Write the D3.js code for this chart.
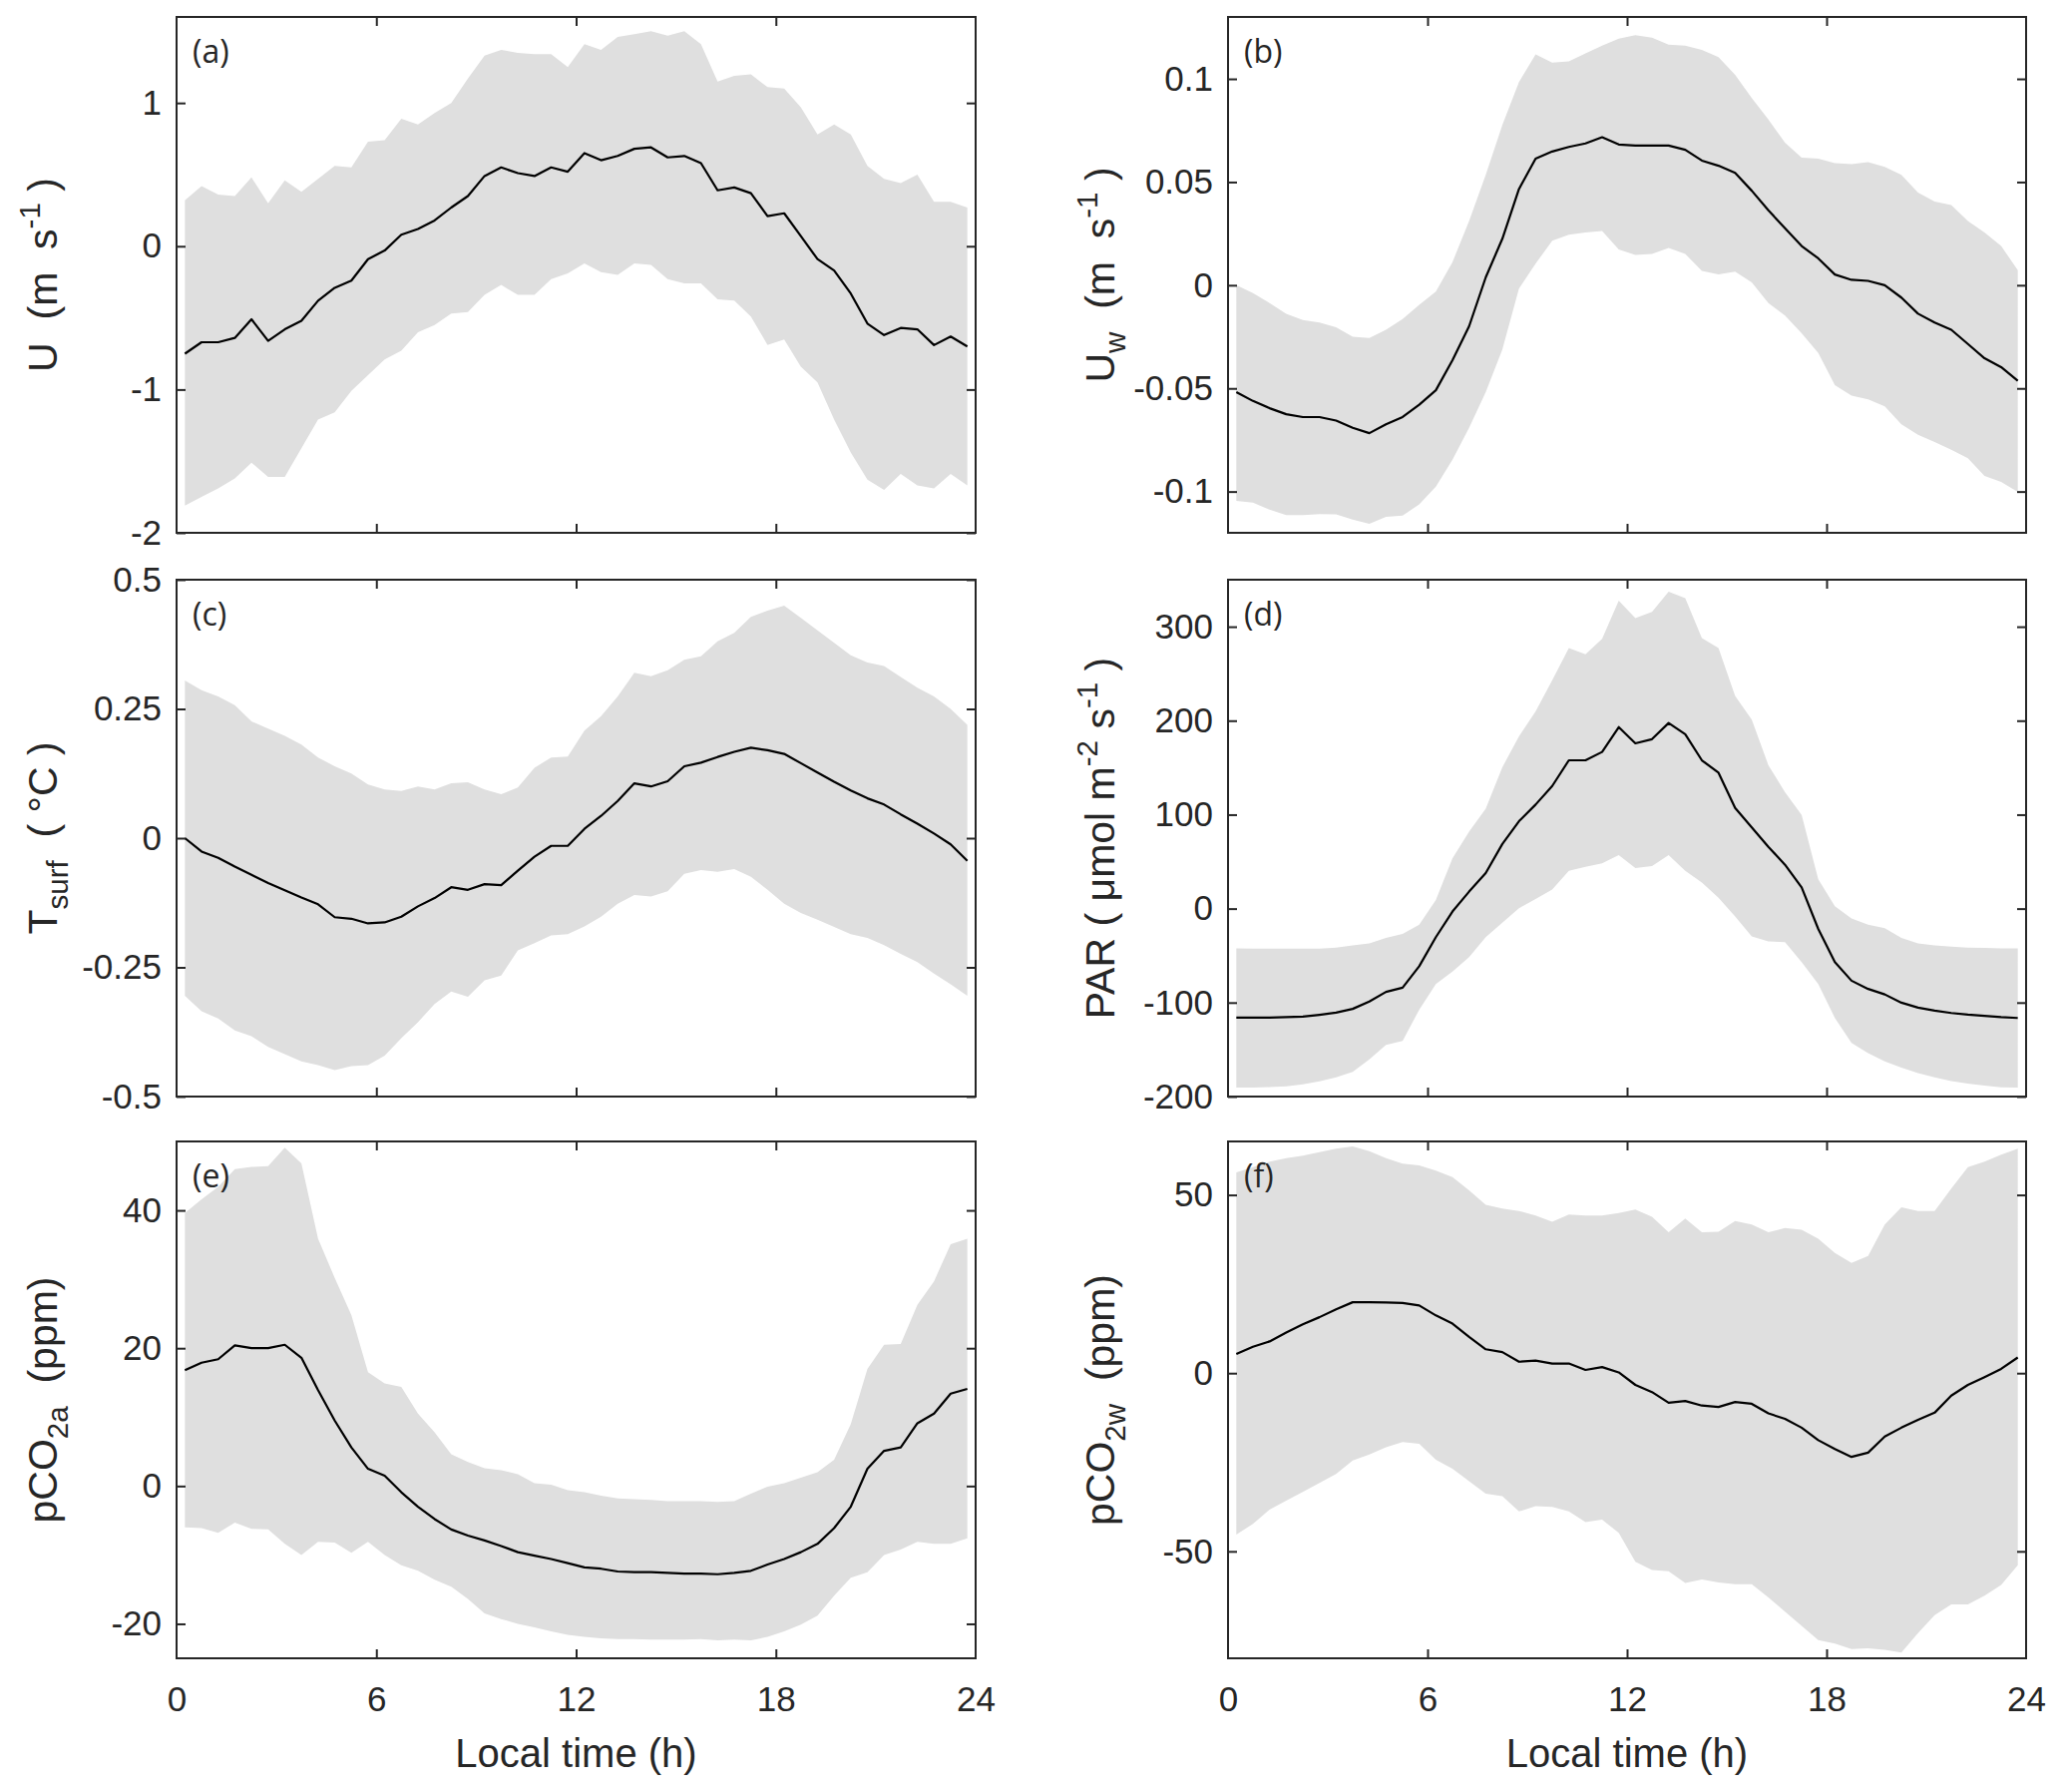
<!DOCTYPE html>
<html>
<head>
<meta charset="utf-8">
<script src="https://cdn.jsdelivr.net/npm/d3@7"></script>
<style>
  html, body { margin: 0; padding: 0; background: #fff; }
  svg { display: block; }
  text { white-space: pre; }
</style>
</head>
<body>
<svg id="chart" width="2067" height="1796"></svg>
<script>
// ---------------- DATA ----------------
const hours = [0.25,0.75,1.25,1.75,2.25,2.75,3.25,3.75,4.25,4.75,5.25,5.75,6.25,6.75,7.25,7.75,
  8.25,8.75,9.25,9.75,10.25,10.75,11.25,11.75,12.25,12.75,13.25,13.75,14.25,14.75,15.25,15.75,
  16.25,16.75,17.25,17.75,18.25,18.75,19.25,19.75,20.25,20.75,21.25,21.75,22.25,22.75,23.25,23.75];
const xTicks = [0, 6, 12, 18, 24];

// (a) U
const uMean = [-0.75,-0.67,-0.67,-0.64,-0.51,-0.66,-0.58,-0.52,-0.38,-0.29,-0.24,-0.09,-0.03,0.08,0.12,0.18,0.27,0.35,0.49,0.55,0.51,0.49,0.55,0.52,0.65,0.60,0.63,0.68,0.69,0.62,0.63,0.58,0.39,0.41,0.37,0.21,0.23,0.07,-0.09,-0.17,-0.33,-0.54,-0.62,-0.57,-0.58,-0.69,-0.63,-0.70];
const uUpper = [0.32,0.42,0.36,0.35,0.48,0.30,0.46,0.38,0.47,0.56,0.55,0.73,0.74,0.89,0.85,0.93,1.00,1.17,1.33,1.37,1.35,1.34,1.34,1.25,1.41,1.37,1.46,1.48,1.50,1.47,1.50,1.41,1.15,1.19,1.20,1.11,1.10,0.97,0.78,0.85,0.78,0.56,0.47,0.44,0.50,0.31,0.31,0.27];
const uLower = [-1.81,-1.75,-1.69,-1.62,-1.51,-1.61,-1.61,-1.41,-1.21,-1.16,-1.01,-0.90,-0.79,-0.73,-0.60,-0.55,-0.47,-0.46,-0.34,-0.27,-0.34,-0.34,-0.23,-0.19,-0.12,-0.18,-0.20,-0.12,-0.13,-0.23,-0.26,-0.26,-0.37,-0.38,-0.49,-0.69,-0.65,-0.84,-0.95,-1.21,-1.44,-1.63,-1.70,-1.59,-1.67,-1.69,-1.59,-1.67];
const uTicks = [-2, -1, 0, 1];

// (b) Uw
const uwMean = [-0.0518,-0.0561,-0.0596,-0.0625,-0.0639,-0.0639,-0.0656,-0.0691,-0.0717,-0.0674,-0.0639,-0.0579,-0.0509,-0.0363,-0.0199,0.0038,0.0225,0.0466,0.0613,0.0648,0.0670,0.0687,0.0717,0.0682,0.0677,0.0677,0.0677,0.0656,0.0604,0.0579,0.0544,0.0458,0.0363,0.0276,0.0190,0.0130,0.0052,0.0026,0.0021,0.0000,-0.0060,-0.0138,-0.0181,-0.0216,-0.0285,-0.0354,-0.0397,-0.0463];
const uwUpper = [0.0000,-0.0038,-0.0086,-0.0138,-0.0169,-0.0181,-0.0204,-0.0250,-0.0256,-0.0216,-0.0164,-0.0095,-0.0031,0.0112,0.0311,0.0535,0.0777,0.0984,0.1119,0.1079,0.1085,0.1123,0.1161,0.1195,0.1212,0.1200,0.1166,0.1161,0.1140,0.1105,0.1019,0.0907,0.0803,0.0691,0.0618,0.0613,0.0591,0.0587,0.0596,0.0573,0.0535,0.0449,0.0406,0.0389,0.0311,0.0256,0.0190,0.0073];
const uwLower = [-0.1045,-0.1054,-0.1088,-0.1114,-0.1114,-0.1109,-0.1110,-0.1136,-0.1157,-0.1123,-0.1117,-0.1062,-0.0976,-0.0846,-0.0691,-0.0518,-0.0311,-0.0017,0.0104,0.0216,0.0245,0.0256,0.0263,0.0173,0.0147,0.0152,0.0181,0.0152,0.0069,0.0052,0.0066,0.0014,-0.0086,-0.0147,-0.0233,-0.0328,-0.0484,-0.0535,-0.0553,-0.0587,-0.0674,-0.0725,-0.0760,-0.0798,-0.0838,-0.0924,-0.0953,-0.1002];
const uwTicks = [-0.1, -0.05, 0, 0.05, 0.1];

// (c) Tsurf
const tMean = [0.000,-0.026,-0.038,-0.055,-0.071,-0.087,-0.101,-0.115,-0.128,-0.153,-0.156,-0.165,-0.163,-0.152,-0.132,-0.116,-0.095,-0.100,-0.089,-0.091,-0.063,-0.036,-0.015,-0.015,0.018,0.043,0.072,0.106,0.100,0.110,0.139,0.146,0.157,0.167,0.175,0.170,0.163,0.145,0.127,0.109,0.092,0.077,0.065,0.046,0.028,0.009,-0.012,-0.044];
const tUpper = [0.305,0.286,0.274,0.257,0.226,0.212,0.198,0.181,0.156,0.139,0.125,0.104,0.094,0.091,0.100,0.094,0.106,0.108,0.094,0.085,0.098,0.136,0.156,0.158,0.208,0.236,0.274,0.320,0.313,0.325,0.345,0.352,0.381,0.397,0.428,0.440,0.450,0.426,0.402,0.378,0.354,0.340,0.333,0.312,0.291,0.274,0.250,0.219];
const tLower = [-0.305,-0.335,-0.349,-0.372,-0.383,-0.404,-0.418,-0.432,-0.439,-0.449,-0.441,-0.439,-0.421,-0.387,-0.356,-0.321,-0.297,-0.307,-0.275,-0.266,-0.217,-0.203,-0.188,-0.186,-0.171,-0.152,-0.127,-0.110,-0.113,-0.103,-0.069,-0.062,-0.065,-0.060,-0.075,-0.100,-0.127,-0.145,-0.158,-0.172,-0.186,-0.193,-0.207,-0.224,-0.240,-0.262,-0.283,-0.305];
const tTicks = [-0.5, -0.25, 0, 0.25, 0.5];

// (d) PAR
const parMean = [-116,-116,-116,-115.5,-115,-113,-110.7,-106.7,-98.8,-88.6,-84.2,-61.3,-30.4,-3.1,18.1,37.9,68.8,93,110.7,130.5,157.8,157.8,166.7,193.1,175.9,180.3,197.5,185.6,157.8,144.6,107.1,86.4,65.7,46.7,22.5,-21.6,-56.9,-76.7,-85.5,-91.3,-100.1,-105.4,-108.5,-111.1,-112.9,-114.2,-115.5,-116.4];
const parUpper = [-42.3,-42.5,-42.5,-42.5,-42.5,-42.5,-41.4,-39.2,-37,-31.3,-26.9,-17.2,9.3,53.4,82,106.3,150.4,183.4,209.9,242.9,277.3,270.7,287,327.6,309.1,315.7,337.3,330.3,287.9,277.3,226.2,201.1,152.6,123.9,99.6,31.3,2.6,-10.6,-17.2,-20.7,-31.3,-37,-39.2,-40.6,-41.4,-41.9,-42.3,-42.3];
const parLower = [-190.5,-190.5,-190,-189.2,-187,-183.9,-179.5,-173.7,-160.5,-145.1,-140.7,-107.6,-80.2,-67,-51.6,-30.4,-15,0.4,10.1,20.3,40.1,44.5,48.1,56.9,43.2,45.4,56.9,40.1,27.8,11.5,-8.4,-29.5,-34.8,-35.7,-56.9,-80.2,-116.4,-142.9,-153.9,-162.7,-169.3,-175,-179.5,-183.5,-186.1,-188.4,-190.1,-190.5];
const parTicks = [-200, -100, 0, 100, 200, 300];

// (e) pCO2a
const co2aMean = [16.8,17.9,18.4,20.4,20.0,20.0,20.5,18.6,13.9,9.5,5.6,2.5,1.5,-0.9,-3.0,-4.8,-6.3,-7.2,-7.9,-8.7,-9.6,-10.1,-10.6,-11.2,-11.8,-12.0,-12.4,-12.5,-12.5,-12.6,-12.7,-12.7,-12.8,-12.6,-12.3,-11.4,-10.6,-9.6,-8.4,-6.1,-3.0,2.5,5.1,5.6,9.1,10.5,13.4,14.1];
const co2aUpper = [39.6,41.6,43.4,46.0,46.3,46.4,49.1,46.8,35.9,30.2,24.8,16.5,14.9,14.4,10.5,7.8,4.6,3.5,2.6,2.3,1.7,0.4,0.2,-0.6,-0.9,-1.4,-1.8,-1.9,-2.0,-2.2,-2.2,-2.2,-2.3,-2.2,-1.1,-0.1,0.4,1.2,2.0,3.8,9.0,17.0,20.5,20.6,26.3,29.7,35.1,35.9];
const co2aLower = [-6.0,-6.1,-6.8,-5.3,-6.2,-6.3,-8.4,-10.0,-8.1,-8.2,-9.7,-8.1,-10.0,-11.5,-12.3,-13.6,-14.6,-16.4,-18.5,-19.3,-20.0,-20.5,-21.1,-21.6,-21.9,-22.1,-22.2,-22.2,-22.3,-22.3,-22.3,-22.2,-22.4,-22.3,-22.4,-21.9,-21.1,-20.1,-18.8,-15.9,-13.3,-12.5,-10.0,-9.2,-8.1,-8.4,-8.4,-7.6];
const co2aTicks = [-20, 0, 20, 40];

// (f) pCO2w
const co2wMean = [5.4,7.4,8.9,11.4,13.7,15.7,17.9,19.9,19.9,19.8,19.7,19.0,16.2,13.9,10.2,6.7,5.9,3.2,3.5,2.7,2.7,0.9,1.7,0.2,-3.3,-5.3,-8.3,-7.8,-9.1,-9.5,-8.1,-8.6,-11.3,-12.8,-15.3,-18.8,-21.3,-23.5,-22.3,-17.8,-15.3,-13.1,-11.1,-6.3,-3.3,-1.1,1.2,4.4];
const co2wUpper = [56.3,57.8,59.3,60.3,61.0,62.0,63.0,63.6,62.3,60.3,58.8,58.3,56.8,55.0,51.3,47.2,46.2,45.5,44.2,42.5,44.5,44.2,44.2,44.9,45.9,43.9,39.5,43.4,39.5,39.7,42.7,41.7,39.5,40.7,40.2,37.7,33.7,30.9,32.9,41.7,46.5,45.5,45.5,51.8,57.8,59.3,61.3,63.0];
const co2wLower = [-45.3,-42.3,-38.3,-35.8,-33.3,-30.8,-28.3,-24.5,-22.8,-20.8,-19.3,-19.8,-24.3,-26.8,-30.3,-33.8,-34.5,-38.8,-37.3,-37.5,-38.8,-41.8,-41.1,-44.8,-52.9,-55.2,-55.6,-58.9,-57.9,-58.7,-59.2,-59.2,-62.9,-66.9,-70.9,-74.9,-75.9,-77.4,-77.2,-77.6,-78.4,-72.9,-67.9,-64.9,-64.9,-62.4,-59.4,-53.9];
const co2wTicks = [-50, 0, 50];

// ---------------- LAYOUT ----------------
const cols = [{x0: 177, x1: 978, labelX: 57}, {x0: 1231, x1: 2031, labelX: 1117}];
const rows = [{y0: 17, y1: 534}, {y0: 581, y1: 1099}, {y0: 1144, y1: 1662}];

const panels = [
  {id: "(a)", col: 0, row: 0, mean: uMean, upper: uUpper, lower: uLower, domain: [-2, 1.6], ticks: uTicks,
   label: [{t: "U  (m  s"}, {t: "-1", sup: true}, {t: " )"}]},
  {id: "(b)", col: 1, row: 0, mean: uwMean, upper: uwUpper, lower: uwLower, domain: [-0.12, 0.13], ticks: uwTicks,
   label: [{t: "U"}, {t: "w", sub: true}, {t: "  (m  s"}, {t: "-1", sup: true}, {t: " )"}]},
  {id: "(c)", col: 0, row: 1, mean: tMean, upper: tUpper, lower: tLower, domain: [-0.5, 0.5], ticks: tTicks,
   label: [{t: "T"}, {t: "surf", sub: true}, {t: "  ( °C )"}]},
  {id: "(d)", col: 1, row: 1, mean: parMean, upper: parUpper, lower: parLower, domain: [-200, 350], ticks: parTicks,
   label: [{t: "PAR ( μmol m"}, {t: "-2", sup: true}, {t: " s"}, {t: "-1", sup: true}, {t: " )"}]},
  {id: "(e)", col: 0, row: 2, mean: co2aMean, upper: co2aUpper, lower: co2aLower, domain: [-25, 50], ticks: co2aTicks,
   label: [{t: "pCO"}, {t: "2a", sub: true}, {t: "  (ppm)"}]},
  {id: "(f)", col: 1, row: 2, mean: co2wMean, upper: co2wUpper, lower: co2wLower, domain: [-80, 65], ticks: co2wTicks,
   label: [{t: "pCO"}, {t: "2w", sub: true}, {t: "  (ppm)"}]}
];

const axisColor = "#262626";
const tickFont = "'Liberation Sans', Arial, sans-serif";
const tickSize = 35;
const labelSize = 41;
const tickLen = 9;

const svg = d3.select("#chart");

panels.forEach(p => {
  const c = cols[p.col], r = rows[p.row];
  const x = d3.scaleLinear().domain([0, 24]).range([c.x0, c.x1]);
  const y = d3.scaleLinear().domain(p.domain).range([r.y1, r.y0]);
  const data = hours.map((h, i) => ({h, m: p.mean[i], lo: p.lower[i], hi: p.upper[i]}));
  const g = svg.append("g");

  g.append("path").datum(data)
    .attr("fill", "#dfdfdf")
    .attr("d", d3.area().x(d => x(d.h)).y0(d => y(d.lo)).y1(d => y(d.hi)));

  g.append("path").datum(data)
    .attr("fill", "none").attr("stroke", "#000").attr("stroke-width", 2.2)
    .attr("stroke-linejoin", "round")
    .attr("d", d3.line().x(d => x(d.h)).y(d => y(d.m)));

  const showX = p.row === 2;
  const plain = d => String(d);   // hyphen-minus, as in the original
  const axes = [
    {a: d3.axisLeft(y).tickValues(p.ticks).tickFormat(plain), tr: `translate(${c.x0},0)`, labels: true, kind: "y"},
    {a: d3.axisRight(y).tickValues(p.ticks), tr: `translate(${c.x1},0)`, labels: false, kind: "y"},
    {a: d3.axisBottom(x).tickValues(xTicks).tickFormat(plain), tr: `translate(0,${r.y1})`, labels: showX, kind: "x"},
    {a: d3.axisTop(x).tickValues(xTicks), tr: `translate(0,${r.y0})`, labels: false, kind: "x"}
  ];
  axes.forEach(ax => {
    ax.a.tickSizeInner(-tickLen).tickSizeOuter(0).tickPadding(ax.kind === "x" ? 28 : 15);
    if (!ax.labels) ax.a.tickFormat(() => "");
    const ag = g.append("g").attr("transform", ax.tr).call(ax.a);
    ag.select(".domain").remove();
    ag.selectAll(".tick line").attr("stroke", axisColor).attr("stroke-width", 2);
    ag.selectAll(".tick text")
      .attr("fill", axisColor)
      .style("font-family", tickFont)
      .style("font-size", tickSize + "px");
    if (ax.kind === "x") ag.selectAll(".tick line").filter(d => d === 0 || d === 24).remove();
  });

  g.append("rect")
    .attr("x", c.x0).attr("y", r.y0)
    .attr("width", c.x1 - c.x0).attr("height", r.y1 - r.y0)
    .attr("fill", "none").attr("stroke", axisColor).attr("stroke-width", 2);

  // panel letter
  g.append("text")
    .attr("x", c.x0 + 16).attr("y", r.y0 + 46)
    .attr("fill", axisColor)
    .style("font-family", "'Open Sans', 'Noto Sans', sans-serif")
    .style("font-size", "32px")
    .text(p.id);

  // y label
  const cy = (r.y0 + r.y1) / 2;
  const lt = g.append("text")
    .attr("xml:space", "preserve")
    .attr("transform", `translate(${c.labelX},${cy}) rotate(-90)`)
    .attr("text-anchor", "middle")
    .attr("fill", axisColor)
    .style("font-family", tickFont)
    .style("font-size", labelSize + "px");
  let shift = 0;
  p.label.forEach(part => {
    const target = part.sup ? -0.42 * labelSize : part.sub ? 0.28 * labelSize : 0;
    const ts = lt.append("tspan").attr("dy", target - shift).text(part.t);
    if (part.sup || part.sub) ts.style("font-size", (labelSize * 0.72) + "px");
    shift = target;
  });

  if (showX) {
    g.append("text")
      .attr("x", (c.x0 + c.x1) / 2).attr("y", 1771)
      .attr("text-anchor", "middle")
      .attr("fill", axisColor)
      .style("font-family", tickFont)
      .style("font-size", "40px")
      .text("Local time (h)");
  }
});
</script>
</body>
</html>
